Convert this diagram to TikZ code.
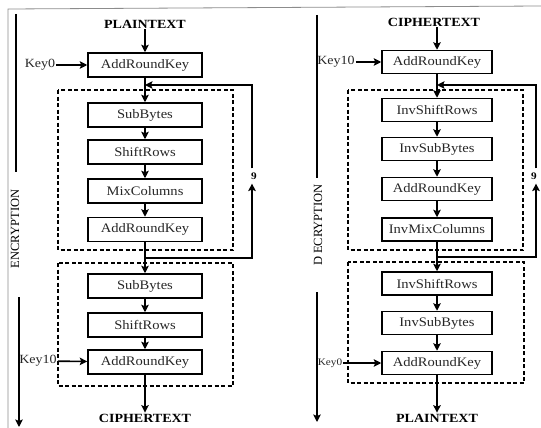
\documentclass[tikz,border=0pt]{standalone}
\usepackage{fontspec}
\setmainfont{Liberation Serif}[FakeStretch=1.12]
\newfontfamily\sidefont{Liberation Serif}
\usetikzlibrary{arrows.meta}
\tikzset{
  box/.style={draw,line width=1.5pt,minimum height=24pt,inner sep=0pt,text=black!85,font=\fontsize{13}{15}\selectfont},
  ebox/.style={box,minimum width=114pt},
  dbox/.style={box,minimum width=110pt,minimum height=23pt},
  arr/.style={line width=1.6pt,-{Stealth[length=7.5pt,width=7.5pt,inset=1.5pt]}},
  plain/.style={line width=1.6pt},
  title/.style={font=\fontsize{12.5}{14}\selectfont\bfseries,inner sep=1pt},
  keylbl/.style={font=\fontsize{12.5}{14}\selectfont,inner sep=1pt,text=black!85},
  rounddash/.style={line width=1.5pt,dash pattern=on 4pt off 2.5pt},
  side/.style={rotate=90,font=\sidefont\fontsize{12.5}{14}\selectfont,inner sep=1pt},
  nine/.style={font=\fontsize{10}{11}\selectfont\bfseries,inner sep=4pt},
  frame/.style={draw=black!45,line width=0.8pt}
}
\begin{document}
\begin{tikzpicture}[x=1pt,y=-1pt]
\useasboundingbox (0,0) rectangle (541,428);
% frame
\coordinate (f1) at (8,428); \coordinate (f2) at (8,9); \coordinate (f3) at (541,6);
\draw[frame] (f1) -- (f2) -- (f3);

% ===== ENCRYPTION =====
\node[title] (ept) at (145,24) {PLAINTEXT};
\node[ebox] (eark0) at (145,65) {AddRoundKey};
\node[keylbl] (ek0) at (40,65) {Key0};
\draw[rounddash] (58,90) rectangle (233,250);
\node[ebox] (esb1) at (145,115) {SubBytes};
\node[ebox] (esr1) at (145,152) {ShiftRows};
\node[ebox] (emc) at (145,191) {MixColumns};
\node[ebox] (eark1) at (145,229.5) {AddRoundKey};
\draw[rounddash] (58,263) rectangle (233,386);
\node[ebox] (esb2) at (145,286) {SubBytes};
\node[ebox] (esr2) at (145,325) {ShiftRows};
\node[ebox] (eark2) at (145,362) {AddRoundKey};
\node[keylbl] (ek10) at (38,361) {Key10};
\node[title] (ect) at (145,418) {CIPHERTEXT};

\draw[arr] (ept) -- (eark0);
\draw[arr] (ek0) -- (eark0);
\draw[arr] (eark0) -- (esb1);
\draw[arr] (esb1) -- (esr1);
\draw[arr] (esr1) -- (emc);
\draw[arr] (emc) -- (eark1);
\draw[arr] (eark1) -- (esb2);
\draw[arr] (esb2) -- (esr2);
\draw[arr] (esr2) -- (eark2);
\draw[arr] (ek10) -- (eark2);
\draw[arr] (eark2) -- (ect);

\coordinate (ejB) at (145,258); \coordinate (eRB) at (252,258);
\coordinate (eRT) at (252,85); \coordinate (ejT) at (145,85);
\node[nine] (e9) at (254,176) {9};
\draw[arr] (ejB) -- (eRB) -- (eRB |- e9.south);
\draw[arr] (eRT |- e9.north) -- (eRT) -- (ejT);

% side arrow
\coordinate (es1) at (16,14); \coordinate (es2) at (16,172);
\node[side] (etxt) at (15,229) {ENCRYPTION};
\coordinate (es3) at (19,297); \coordinate (es4) at (19,427);
\draw[plain] (es1) -- (es2);
\draw[arr] (es3) -- (es4);

% ===== DECRYPTION =====
\node[title] (dct) at (434,22) {CIPHERTEXT};
\node[dbox] (dark0) at (437,62) {AddRoundKey};
\node[keylbl] (dk10) at (336,62) {Key10};
\draw[rounddash] (348,90) rectangle (523,250);
\node[dbox] (disr1) at (437,110) {InvShiftRows};
\node[dbox] (disb1) at (437,149) {InvSubBytes};
\node[dbox] (dark1) at (437,189) {AddRoundKey};
\node[dbox] (dimc) at (437,229.5) {InvMixColumns};
\draw[rounddash] (348,262) rectangle (524,383);
\node[dbox] (disr2) at (437,283.5) {InvShiftRows};
\node[dbox] (disb2) at (437,323) {InvSubBytes};
\node[dbox] (dark2) at (437,363) {AddRoundKey};
\node[keylbl,font=\fontsize{10}{12}\selectfont] (dk0) at (330,363) {Key0};
\node[title] (dpt) at (437,418) {PLAINTEXT};

\draw[arr] (dark0 |- dct.south) -- (dark0);
\draw[arr] (dk10) -- (dark0);
\draw[arr] (dark0) -- (disr1);
\draw[arr] (disr1) -- (disb1);
\draw[arr] (disb1) -- (dark1);
\draw[arr] (dark1) -- (dimc);
\draw[arr] (dimc) -- (disr2);
\draw[arr] (disr2) -- (disb2);
\draw[arr] (disb2) -- (dark2);
\draw[arr] (dk0) -- (dark2);
\draw[arr] (dark2) -- (dpt);

\coordinate (djB) at (437,257); \coordinate (dRB) at (536,257);
\coordinate (dRT) at (536,85); \coordinate (djT) at (437,85);
\node[nine] (d9) at (534,176) {9};
\draw[arr] (djB) -- (dRB) -- (dRB |- d9.south);
\draw[arr] (dRT |- d9.north) -- (dRT) -- (djT);

\coordinate (ds1) at (317,15); \coordinate (ds2) at (317,178);
\node[side] (dtxt) at (318,225) {D ECRYPTION};
\coordinate (ds3) at (317,292); \coordinate (ds4) at (317,422);
\draw[plain] (ds1) -- (ds2);
\draw[arr] (ds3) -- (ds4);
\end{tikzpicture}
\end{document}
